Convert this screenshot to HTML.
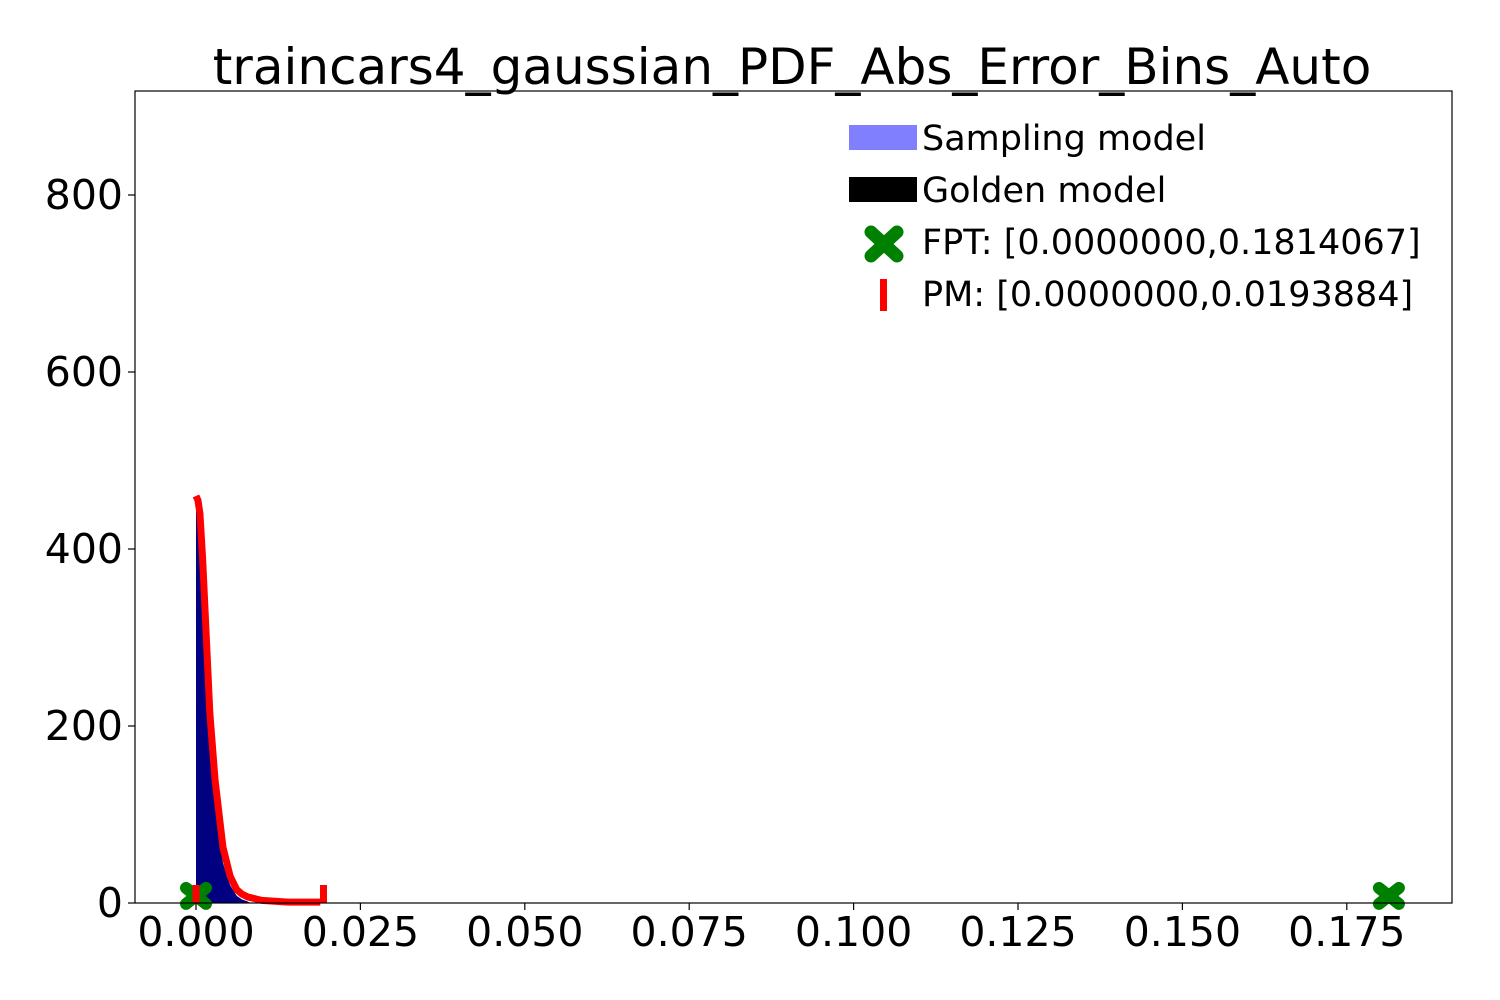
<!DOCTYPE html>
<html><head><meta charset="utf-8"><style>
body{margin:0;background:#fff}
svg{display:block;font-family:"DejaVu Sans","Liberation Sans",sans-serif}
</style></head><body>
<svg id="chart" width="1500" height="1000" xmlns="http://www.w3.org/2000/svg">
<rect width="1500" height="1000" fill="#fff"/>
<text x="792" y="84" font-size="50" text-anchor="middle">traincars4_gaussian_PDF_Abs_Error_Bins_Auto</text>
<g id="hist"></g>
<g id="curve"></g>
<g id="markers"></g>
<rect x="135" y="91" width="1317" height="812" fill="none" stroke="#000" stroke-width="1.2"/>
<g id="xticks"></g>
<g id="yticks"></g>
<g>
<rect x="849" y="125" width="68" height="25" fill="#8080ff"/>
<text x="922" y="150" font-size="35">Sampling model</text>
<rect x="849" y="177" width="68" height="25" fill="#000"/>
<text x="922" y="202" font-size="35">Golden model</text>
<path d="M871,232 L897,256 M897,232 L871,256" stroke="green" stroke-width="13" stroke-linecap="round"/>
<text x="922" y="254" font-size="35">FPT: [0.0000000,0.1814067]</text>
<rect x="880" y="279" width="7" height="32" fill="red"/>
<text x="922" y="306" font-size="35">PM: [0.0000000,0.0193884]</text>
</g>
</svg>
<script>
const xTicks=[0,0.025,0.05,0.075,0.1,0.125,0.15,0.175];
const xTickLabels=["0.000","0.025","0.050","0.075","0.100","0.125","0.150","0.175"];
const yTicks=[0,200,400,600,800];
const curveX=[0,0.0003,0.0006,0.0010,0.0014,0.0021,0.0029,0.0041,0.0052,0.0062,0.0070,0.0078,0.0100,0.0140,0.0189];
const curveY=[460,455,440,390,327,215,139,63,30,15,10,7,3,1,1];
const histX=[0,0.0003,0.0006,0.0010,0.0014,0.0021,0.0029,0.0041,0.0052,0.0062,0.0070,0.0078];
const histY=[450,445,420,360,290,180,110,45,20,8,4,2];
const fptX=[0,0.1814067];
const pmX=[0,0.0193884];
const X=v=>196+v*6576;
const Y=v=>903-v*0.885;
const NS="http://www.w3.org/2000/svg";
function mk(t,a,p){const e=document.createElementNS(NS,t);for(const k in a)e.setAttribute(k,a[k]);p.appendChild(e);return e;}
const xt=document.getElementById('xticks');
xTicks.forEach((v,i)=>{
 const l=mk('line',{x1:X(v),x2:X(v),y1:903,y2:910,stroke:'#000','stroke-width':1.2},xt);
 
 
 const t=mk('text',{x:X(v),y:946,'font-size':41,'text-anchor':'middle'},xt);
 t.textContent=xTickLabels[i];
 
 
});
const yt=document.getElementById('yticks');
yTicks.forEach(v=>{
 const l=mk('line',{x1:128,x2:135,y1:Y(v),y2:Y(v),stroke:'#000','stroke-width':1.2},yt);
 
 
 const t=mk('text',{x:123,y:Y(v)+14,'font-size':41,'text-anchor':'end'},yt);
 t.textContent=String(v);
 
 
});
let hd=`M${X(0)},${Y(0)}`;
histX.forEach((v,i)=>{hd+=` L${X(v)},${Y(histY[i])}`;});
hd+=` L${X(histX[histX.length-1])+3},${Y(0)} Z`;
const h=mk('path',{d:hd,fill:'#000080'},document.getElementById('hist'));


const cd=curveX.map((v,i)=>(i?'L':'M')+X(v)+','+Y(curveY[i])).join(' ');
const c=mk('path',{d:cd,fill:'none',stroke:'red','stroke-width':7,'stroke-linejoin':'round'},document.getElementById('curve'));


const mg=document.getElementById('markers');
fptX.forEach(v=>{
 const x=X(v),y=Y(8);
 const m=mk('path',{d:`M${x-10},${y-8} L${x+10},${y+8} M${x+10},${y-8} L${x-10},${y+8}`,stroke:'green','stroke-width':12,'stroke-linecap':'round'},mg);
 
 
});
pmX.forEach(v=>{
 const m=mk('rect',{x:X(v)-3.5,y:885,width:7,height:18,fill:'red'},mg);
 
 
});
</script>
</body></html>
